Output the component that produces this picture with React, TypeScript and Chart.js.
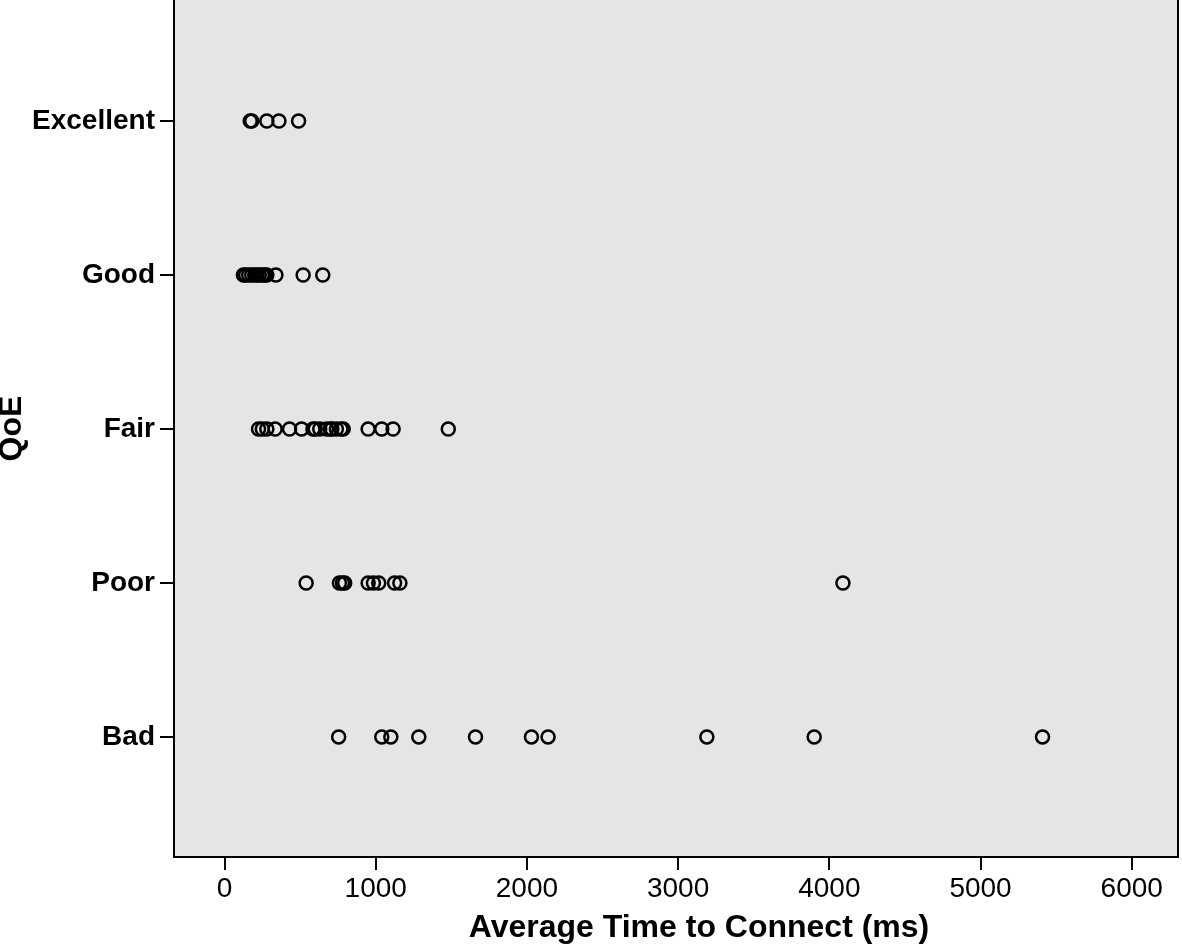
import React, { useEffect, useRef } from "react";
import { Chart, registerables } from "chart.js";

Chart.register(...registerables);

const qoeLevels = ["Bad", "Poor", "Fair", "Good", "Excellent"];
const xTickValues = [0, 1000, 2000, 3000, 4000, 5000, 6000];
const xTitle = "Average Time to Connect (ms)";
const yTitle = "QoE";

const excellentTimes = [170, 180, 280, 360, 490];
const goodTimes = [125, 140, 160, 180, 200, 215, 230, 250, 265, 280, 340, 520, 650];
const fairTimes = [225, 250, 280, 335, 430, 510, 585, 600, 630, 675, 700, 710, 740, 770, 785, 950, 1040, 1115, 1480];
const poorTimes = [540, 760, 780, 795, 950, 985, 1020, 1125, 1160, 4090];
const badTimes = [755, 1040, 1100, 1285, 1660, 2030, 2140, 3190, 3900, 5410];

const seriesByLevel: number[][] = [badTimes, poorTimes, fairTimes, goodTimes, excellentTimes];

const FONT = "'Liberation Sans', Arial, Helvetica, sans-serif";

const framePlugin = {
  id: "frame",
  beforeDraw(chart: any) {
    const { ctx, chartArea } = chart;
    ctx.save();
    ctx.fillStyle = "#e5e5e5";
    ctx.fillRect(chartArea.left, chartArea.top, chartArea.right - chartArea.left, chartArea.bottom - chartArea.top);
    ctx.restore();
  },
  afterDatasetsDraw(chart: any) {
    const { ctx, chartArea } = chart;
    ctx.save();
    ctx.strokeStyle = "#000";
    ctx.lineWidth = 2;
    ctx.beginPath();
    ctx.moveTo(chartArea.left, chartArea.top);
    ctx.lineTo(chartArea.left, chartArea.bottom);
    ctx.lineTo(chartArea.right, chartArea.bottom);
    ctx.lineTo(chartArea.right, chartArea.top);
    ctx.stroke();
    ctx.restore();
  },
  afterDraw(chart: any) {
    const { ctx } = chart;
    ctx.save();
    ctx.fillStyle = "#000";
    ctx.font = `bold 32px ${FONT}`;
    ctx.textAlign = "center";
    ctx.textBaseline = "alphabetic";
    ctx.fillText(xTitle, 699, 937);
    ctx.restore();
  },
};

export default function App() {
  const ref = useRef<HTMLCanvasElement | null>(null);

  useEffect(() => {
    if (!ref.current) return;
    const datasets = seriesByLevel.map((vals, i) => ({
      label: qoeLevels[i],
      data: vals.map((v) => ({ x: v, y: i + 1 })),
      pointStyle: "circle",
      pointRadius: 6.5,
      pointBorderWidth: 2.5,
      pointBorderColor: "#000",
      pointBackgroundColor: "rgba(0,0,0,0)",
      showLine: false,
    }));
    const chart = new Chart(ref.current, {
      type: "scatter",
      data: { datasets },
      plugins: [framePlugin],
      options: {
        animation: false,
        responsive: false,
        devicePixelRatio: 1,
        layout: { autoPadding: false, padding: { left: 0, right: 4, top: 0, bottom: 0 } },
        plugins: { legend: { display: false }, tooltip: { enabled: false } },
        scales: {
          x: {
            type: "linear",
            min: -334,
            max: 6306,
            afterBuildTicks: (scale: any) => {
              scale.ticks = xTickValues.map((v) => ({ value: v }));
            },
            afterFit: (scale: any) => {
              scale.height = 89;
              scale.paddingLeft = 0;
              scale.paddingRight = 0;
            },
            grid: { drawOnChartArea: false, drawTicks: true, tickLength: 13, color: "#000", lineWidth: 2 },
            border: { display: false },
            ticks: {
              color: "#000",
              padding: 2,
              maxRotation: 0,
              font: { family: FONT, size: 28 },
              callback: (v: any) => String(v),
            },
            title: { display: false },
          },
          y: {
            type: "linear",
            min: 0.22,
            max: 5.786,
            afterBuildTicks: (scale: any) => {
              scale.ticks = qoeLevels.map((_, i) => ({ value: i + 1 }));
            },
            afterFit: (scale: any) => {
              scale.width = 174;
              scale.paddingTop = 0;
              scale.paddingBottom = 0;
            },
            grid: { drawOnChartArea: false, drawTicks: true, tickLength: 14, color: "#000", lineWidth: 2 },
            border: { display: false },
            ticks: {
              color: "#000",
              padding: 5,
              font: { family: FONT, size: 28, weight: "bold" },
              callback: (v: any) => qoeLevels[Math.round(Number(v)) - 1] ?? "",
            },
            title: {
              display: true,
              text: yTitle,
              color: "#000",
              font: { family: FONT, size: 32, weight: "bold", lineHeight: 1 },
              padding: { top: -4, bottom: 0 },
            },
          },
        },
      },
    });
    return () => chart.destroy();
  }, []);

  return (
    <div style={{ position: "absolute", left: 0, top: 0, width: 1182, height: 946, background: "#fff" }}>
      <canvas ref={ref} width={1182} height={946} style={{ display: "block" }} />
    </div>
  );
}
